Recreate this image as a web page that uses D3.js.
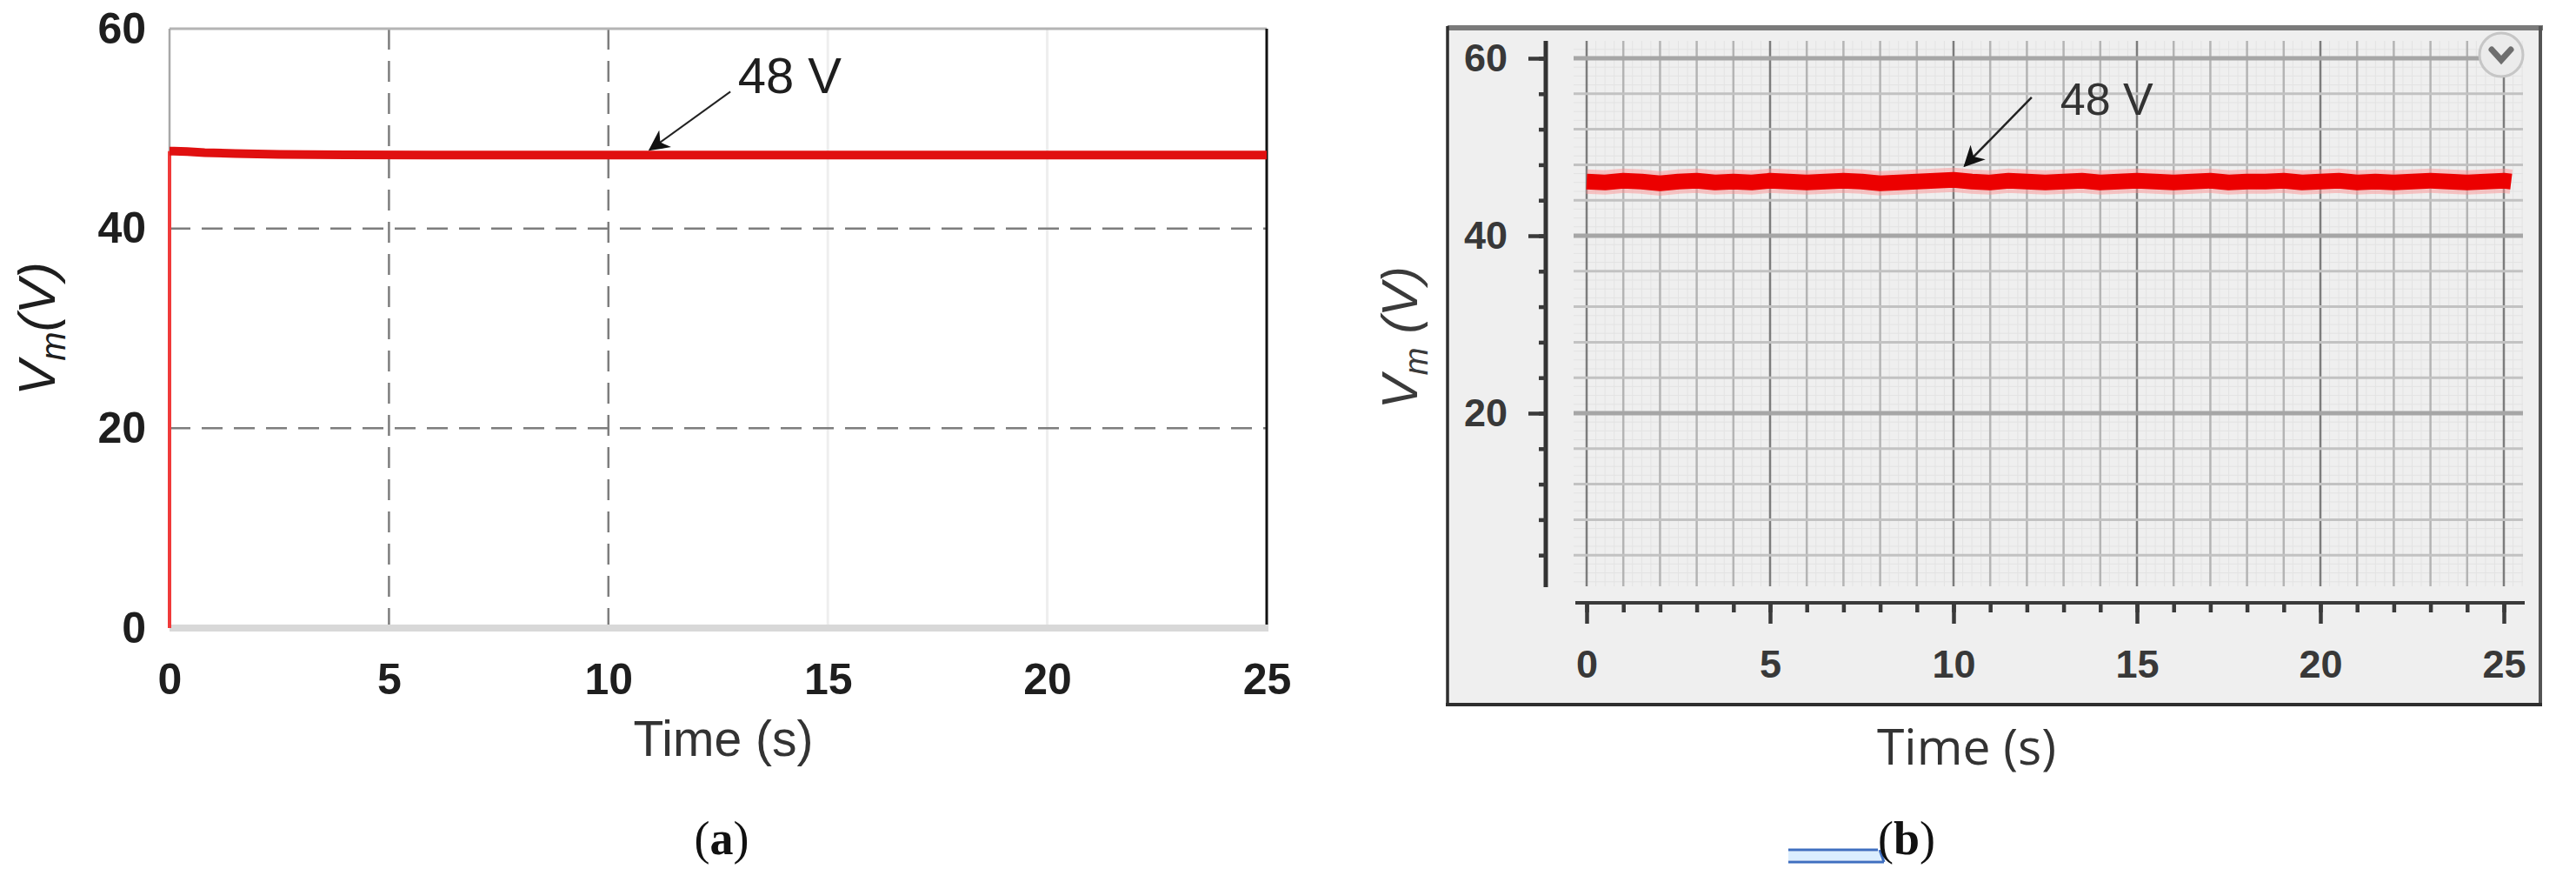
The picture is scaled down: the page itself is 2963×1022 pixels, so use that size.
<!DOCTYPE html>
<html><head><meta charset="utf-8">
<script src="https://cdn.jsdelivr.net/npm/d3@7"></script>
<style>body{margin:0;background:#fff}svg{display:block}</style>
</head><body><svg id="c" width="2963" height="1022"></svg>
<script>
// ---------- data ----------
const xTicks = [0, 5, 10, 15, 20, 25];
const aYTicks = [0, 20, 40, 60];
const bYTicks = [20, 40, 60];
const aRiseTime = [0, 0];
const aRiseVolt = [0, 47.75];
const aTime = [0, 0.1, 0.4, 0.8, 1.5, 2.5, 4, 6, 10, 15, 20, 25];
const aVolt = [47.75, 47.75, 47.7, 47.6, 47.5, 47.42, 47.37, 47.35, 47.35, 47.35, 47.35, 47.35];
const bTime = [0, 0.5, 1, 1.5, 2, 2.5, 3, 3.5, 4, 4.5, 5, 5.5, 6, 6.5, 7, 7.5, 8, 8.5, 9, 9.5,
  10, 10.5, 11, 11.5, 12, 12.5, 13, 13.5, 14, 14.5, 15, 15.5, 16, 16.5, 17, 17.5, 18, 18.5, 19, 19.5,
  20, 20.5, 21, 21.5, 22, 22.5, 23, 23.5, 24, 24.5, 25, 25.2];
const bVolt = [46.1, 46.0, 46.2, 46.1, 45.9, 46.1, 46.2, 46.0, 46.1, 46.0, 46.2, 46.1, 46.0, 46.1, 46.2, 46.1, 45.9, 46.0, 46.1, 46.2,
  46.3, 46.1, 46.0, 46.2, 46.1, 46.0, 46.1, 46.2, 46.0, 46.1, 46.2, 46.1, 46.0, 46.1, 46.2, 46.0, 46.1, 46.1, 46.2, 46.0,
  46.1, 46.2, 46.0, 46.1, 46.0, 46.1, 46.2, 46.1, 46.0, 46.1, 46.2, 46.1];
const annText = "48 V";
const annA = {tx: 12.95, ty: 53.55, x1: 12.78, y1: 53.7, x2: 10.95, y2: 47.9};
const annB = {tx: 12.91, ty: 53.63, x1: 12.13, y1: 55.6, x2: 10.31, y2: 47.9};
const xTitle = "Time (s)";

// ---------- setup ----------
const svg = d3.select("#c");
const defs = svg.append("defs");
defs.append("marker").attr("id", "arr").attr("viewBox", "0 0 10 10").attr("refX", 9).attr("refY", 5)
  .attr("markerWidth", 24).attr("markerHeight", 24).attr("markerUnits", "userSpaceOnUse")
  .attr("orient", "auto")
  .append("path").attr("d", "M0,0 L10,5 L0,10 L3,5 Z").attr("fill", "#111");

const sans = "'Liberation Sans', Arial, Helvetica, sans-serif";

// ================= Panel (a) =================
const xA = d3.scaleLinear([0, 25], [195, 1457]);
const yA = d3.scaleLinear([0, 60], [722, 33]);
const gA = svg.append("g");

gA.selectAll("line.fg").data([15, 20]).join("line")
  .attr("x1", d => xA(d)).attr("x2", d => xA(d)).attr("y1", yA(60)).attr("y2", yA(0))
  .attr("stroke", "#eeeeee").attr("stroke-width", 3);
gA.selectAll("line.vg").data([5, 10]).join("line")
  .attr("x1", d => xA(d)).attr("x2", d => xA(d)).attr("y1", yA(60)).attr("y2", yA(0))
  .attr("stroke", "#7d7d7d").attr("stroke-width", 2.5).attr("stroke-dasharray", "24,13");
gA.selectAll("line.hg").data([20, 40]).join("line")
  .attr("x1", xA(0)).attr("x2", xA(25)).attr("y1", d => yA(d)).attr("y2", d => yA(d))
  .attr("stroke", "#7d7d7d").attr("stroke-width", 2.5).attr("stroke-dasharray", "24,13");

gA.append("line").attr("x1", xA(0)).attr("x2", xA(25)).attr("y1", yA(60)).attr("y2", yA(60)).attr("stroke", "#b4b4b4").attr("stroke-width", 3);
gA.append("line").attr("x1", xA(0)).attr("x2", xA(0)).attr("y1", yA(60)).attr("y2", yA(0)).attr("stroke", "#a8a8a8").attr("stroke-width", 2.5);
gA.append("line").attr("x1", xA(25)).attr("x2", xA(25)).attr("y1", yA(60)).attr("y2", yA(0)).attr("stroke", "#111").attr("stroke-width", 3);
gA.append("line").attr("x1", xA(0)).attr("x2", xA(25) + 2).attr("y1", yA(0)).attr("y2", yA(0)).attr("stroke", "#d8d8d8").attr("stroke-width", 8);

const lineA = d3.line().x(d => xA(d[0])).y(d => yA(d[1]));
gA.append("path").datum(d3.zip(aRiseTime, aRiseVolt)).attr("d", lineA)
  .attr("fill", "none").attr("stroke", "#f03a3a").attr("stroke-width", 4);
gA.append("path").datum(d3.zip(aTime, aVolt)).attr("d", lineA)
  .attr("fill", "none").attr("stroke", "#e01010").attr("stroke-width", 10).attr("stroke-linecap", "butt");

const axA_y = gA.append("g").attr("transform", `translate(${xA(0)},0)`)
  .call(d3.axisLeft(yA).tickValues(aYTicks).tickSize(0).tickPadding(27));
const axA_x = gA.append("g").attr("transform", `translate(0,${yA(0)})`)
  .call(d3.axisBottom(xA).tickValues(xTicks).tickSize(0).tickPadding(40));
[axA_y, axA_x].forEach(ax => {
  ax.select(".domain").remove();
  ax.selectAll("text").attr("font-family", sans).attr("font-weight", "bold").attr("font-size", 50).attr("fill", "#1e1e1e");
});

gA.append("line").attr("x1", xA(annA.x1)).attr("y1", yA(annA.y1)).attr("x2", xA(annA.x2)).attr("y2", yA(annA.y2))
  .attr("stroke", "#222").attr("stroke-width", 2).attr("marker-end", "url(#arr)");
gA.append("text").attr("x", xA(annA.tx)).attr("y", yA(annA.ty)).text(annText)
  .attr("font-family", sans).attr("font-size", 58).attr("fill", "#1e1e1e");

gA.append("text").attr("x", 832).attr("y", 869).attr("text-anchor", "middle").text(xTitle)
  .attr("font-family", sans).attr("font-size", 57).attr("fill", "#333");
const ylA = gA.append("text").attr("transform", "translate(63,378) rotate(-90)").attr("text-anchor", "middle")
  .attr("font-family", sans).attr("font-style", "italic").attr("font-size", 60).attr("fill", "#1e1e1e");
ylA.append("tspan").text("V");
ylA.append("tspan").text("m").attr("font-size", 40).attr("dy", 12);
ylA.append("tspan").text("(V)").attr("dy", -12);

const capA = svg.append("text").attr("x", 830).attr("y", 982).attr("text-anchor", "middle")
  .attr("font-family", "'Liberation Serif', 'Times New Roman', serif").attr("font-size", 54).attr("fill", "#111");
capA.append("tspan").text("(");
capA.append("tspan").text("a").attr("font-weight", "bold");
capA.append("tspan").text(")");

// ================= Panel (b) =================
const xB = d3.scaleLinear([0, 25], [1825, 2880]);
const yB = d3.scaleLinear([0, 60], [679, 67]);
const gB = svg.append("g");

gB.append("rect").attr("x", 1665).attr("y", 30).attr("width", 2923 - 1665).attr("height", 811 - 30).attr("fill", "#efefef");
gB.append("line").attr("x1", 1665).attr("x2", 2925).attr("y1", 32).attr("y2", 32).attr("stroke", "#7a7a7a").attr("stroke-width", 6);
gB.append("line").attr("x1", 1665).attr("x2", 1665).attr("y1", 30).attr("y2", 811).attr("stroke", "#2e2e2e").attr("stroke-width", 3.5);
gB.append("line").attr("x1", 2922).attr("x2", 2922).attr("y1", 30).attr("y2", 811).attr("stroke", "#555").attr("stroke-width", 4);
gB.append("line").attr("x1", 1663).attr("x2", 2924).attr("y1", 810).attr("y2", 810).attr("stroke", "#2e2e2e").attr("stroke-width", 4);

const gx0 = 1810, gx1 = 2902, gy0 = 47, gy1 = 674;
const fineX = d3.range(0, 25.6, 0.25), fineY = d3.range(1, 61.5, 1);
gB.selectAll("line.fx").data(fineX).join("line")
  .attr("x1", d => xB(d)).attr("x2", d => xB(d)).attr("y1", gy0).attr("y2", gy1)
  .attr("stroke", "#e3e3e3").attr("stroke-width", 1);
gB.selectAll("line.fy").data(fineY).join("line")
  .attr("x1", gx0).attr("x2", gx1).attr("y1", d => yB(d)).attr("y2", d => yB(d))
  .attr("stroke", "#e3e3e3").attr("stroke-width", 1);
gB.selectAll("line.mx").data(d3.range(0, 25.5, 1)).join("line")
  .attr("x1", d => xB(d)).attr("x2", d => xB(d)).attr("y1", gy0).attr("y2", gy1)
  .attr("stroke", d => d % 5 === 0 ? "#7c7c7c" : "#b4b4b4").attr("stroke-width", 2.5);
gB.selectAll("line.my").data(d3.range(4, 60.5, 4)).join("line")
  .attr("x1", gx0).attr("x2", gx1).attr("y1", d => yB(d)).attr("y2", d => yB(d))
  .attr("stroke", d => d % 20 === 0 ? "#a6a6a6" : "#c2c2c2").attr("stroke-width", d => d % 20 === 0 ? 5 : 3);

gB.append("circle").attr("cx", 2877).attr("cy", 63).attr("r", 25).attr("fill", "#ebebeb").attr("stroke", "#c6c6c6").attr("stroke-width", 3);
gB.append("path").attr("d", "M2866,57 L2877,69 L2888,57").attr("fill", "none").attr("stroke", "#6e6e6e").attr("stroke-width", 7).attr("stroke-linecap", "round");

const lineB = d3.line().x(d => xB(d[0])).y(d => yB(d[1])).curve(d3.curveLinear);
gB.append("path").datum(d3.zip(bTime, bVolt)).attr("d", lineB)
  .attr("fill", "none").attr("stroke", "#ff8c8c").attr("stroke-opacity", 0.45).attr("stroke-width", 28);
gB.append("path").datum(d3.zip(bTime, bVolt)).attr("d", lineB)
  .attr("fill", "none").attr("stroke", "#ec0000").attr("stroke-width", 18).attr("stroke-linejoin", "round");

gB.append("line").attr("x1", 1778).attr("x2", 1778).attr("y1", 47).attr("y2", 675).attr("stroke", "#333").attr("stroke-width", 5);
gB.append("line").attr("x1", 1812).attr("x2", 2904).attr("y1", 693).attr("y2", 693).attr("stroke", "#3a3a3a").attr("stroke-width", 4);

const ayMin = gB.append("g").attr("transform", "translate(1778,0)")
  .call(d3.axisLeft(yB).tickValues(d3.range(4, 60.5, 4)).tickSize(8).tickFormat(""));
const ayMaj = gB.append("g").attr("transform", "translate(1778,0)")
  .call(d3.axisLeft(yB).tickValues(bYTicks).tickSize(20).tickPadding(24));
const axMin = gB.append("g").attr("transform", "translate(0,693)")
  .call(d3.axisBottom(xB).tickValues(d3.range(0, 25.5, 1)).tickSize(11).tickFormat(""));
const axMaj = gB.append("g").attr("transform", "translate(0,693)")
  .call(d3.axisBottom(xB).tickValues(xTicks).tickSize(24).tickPadding(30));
[ayMin, ayMaj, axMin, axMaj].forEach(ax => {
  ax.select(".domain").remove();
  ax.selectAll("line").attr("stroke", "#3a3a3a").attr("stroke-width", 4.5);
  ax.selectAll("text").attr("font-family", sans).attr("font-weight", "bold").attr("font-size", 45).attr("fill", "#383838");
});

gB.append("line").attr("x1", xB(annB.x1)).attr("y1", yB(annB.y1)).attr("x2", xB(annB.x2)).attr("y2", yB(annB.y2))
  .attr("stroke", "#222").attr("stroke-width", 2.5).attr("marker-end", "url(#arr)");
gB.append("text").attr("x", xB(annB.tx)).attr("y", yB(annB.ty)).text(annText)
  .attr("font-family", sans).attr("font-size", 52).attr("fill", "#333");

svg.append("text").attr("x", 2262).attr("y", 879).attr("text-anchor", "middle").text(xTitle)
  .attr("font-family", "'Open Sans', sans-serif").attr("font-size", 57).attr("fill", "#333");
const ylB = svg.append("text").attr("transform", "translate(1630,388) rotate(-90)").attr("text-anchor", "middle")
  .attr("font-family", sans).attr("font-style", "italic").attr("font-size", 58).attr("fill", "#3a3a3a");
ylB.append("tspan").text("V");
ylB.append("tspan").text("m").attr("font-size", 38).attr("dy", 12);
ylB.append("tspan").text(" (V)").attr("dy", -12);

svg.append("rect").attr("x", 2057).attr("y", 979).attr("width", 106).attr("height", 10).attr("fill", "#dbeeff");
svg.append("path").attr("d", "M2057,977 L2160,977 M2057,991 L2167,991 M2162,977 L2167,991")
  .attr("fill", "none").attr("stroke", "#3f6fc0").attr("stroke-width", 3);
const capB = svg.append("text").attr("x", 2193).attr("y", 982).attr("text-anchor", "middle")
  .attr("font-family", "'Liberation Serif', 'Times New Roman', serif").attr("font-size", 54).attr("fill", "#111");
capB.append("tspan").text("(");
capB.append("tspan").text("b").attr("font-weight", "bold");
capB.append("tspan").text(")");
</script></body></html>
